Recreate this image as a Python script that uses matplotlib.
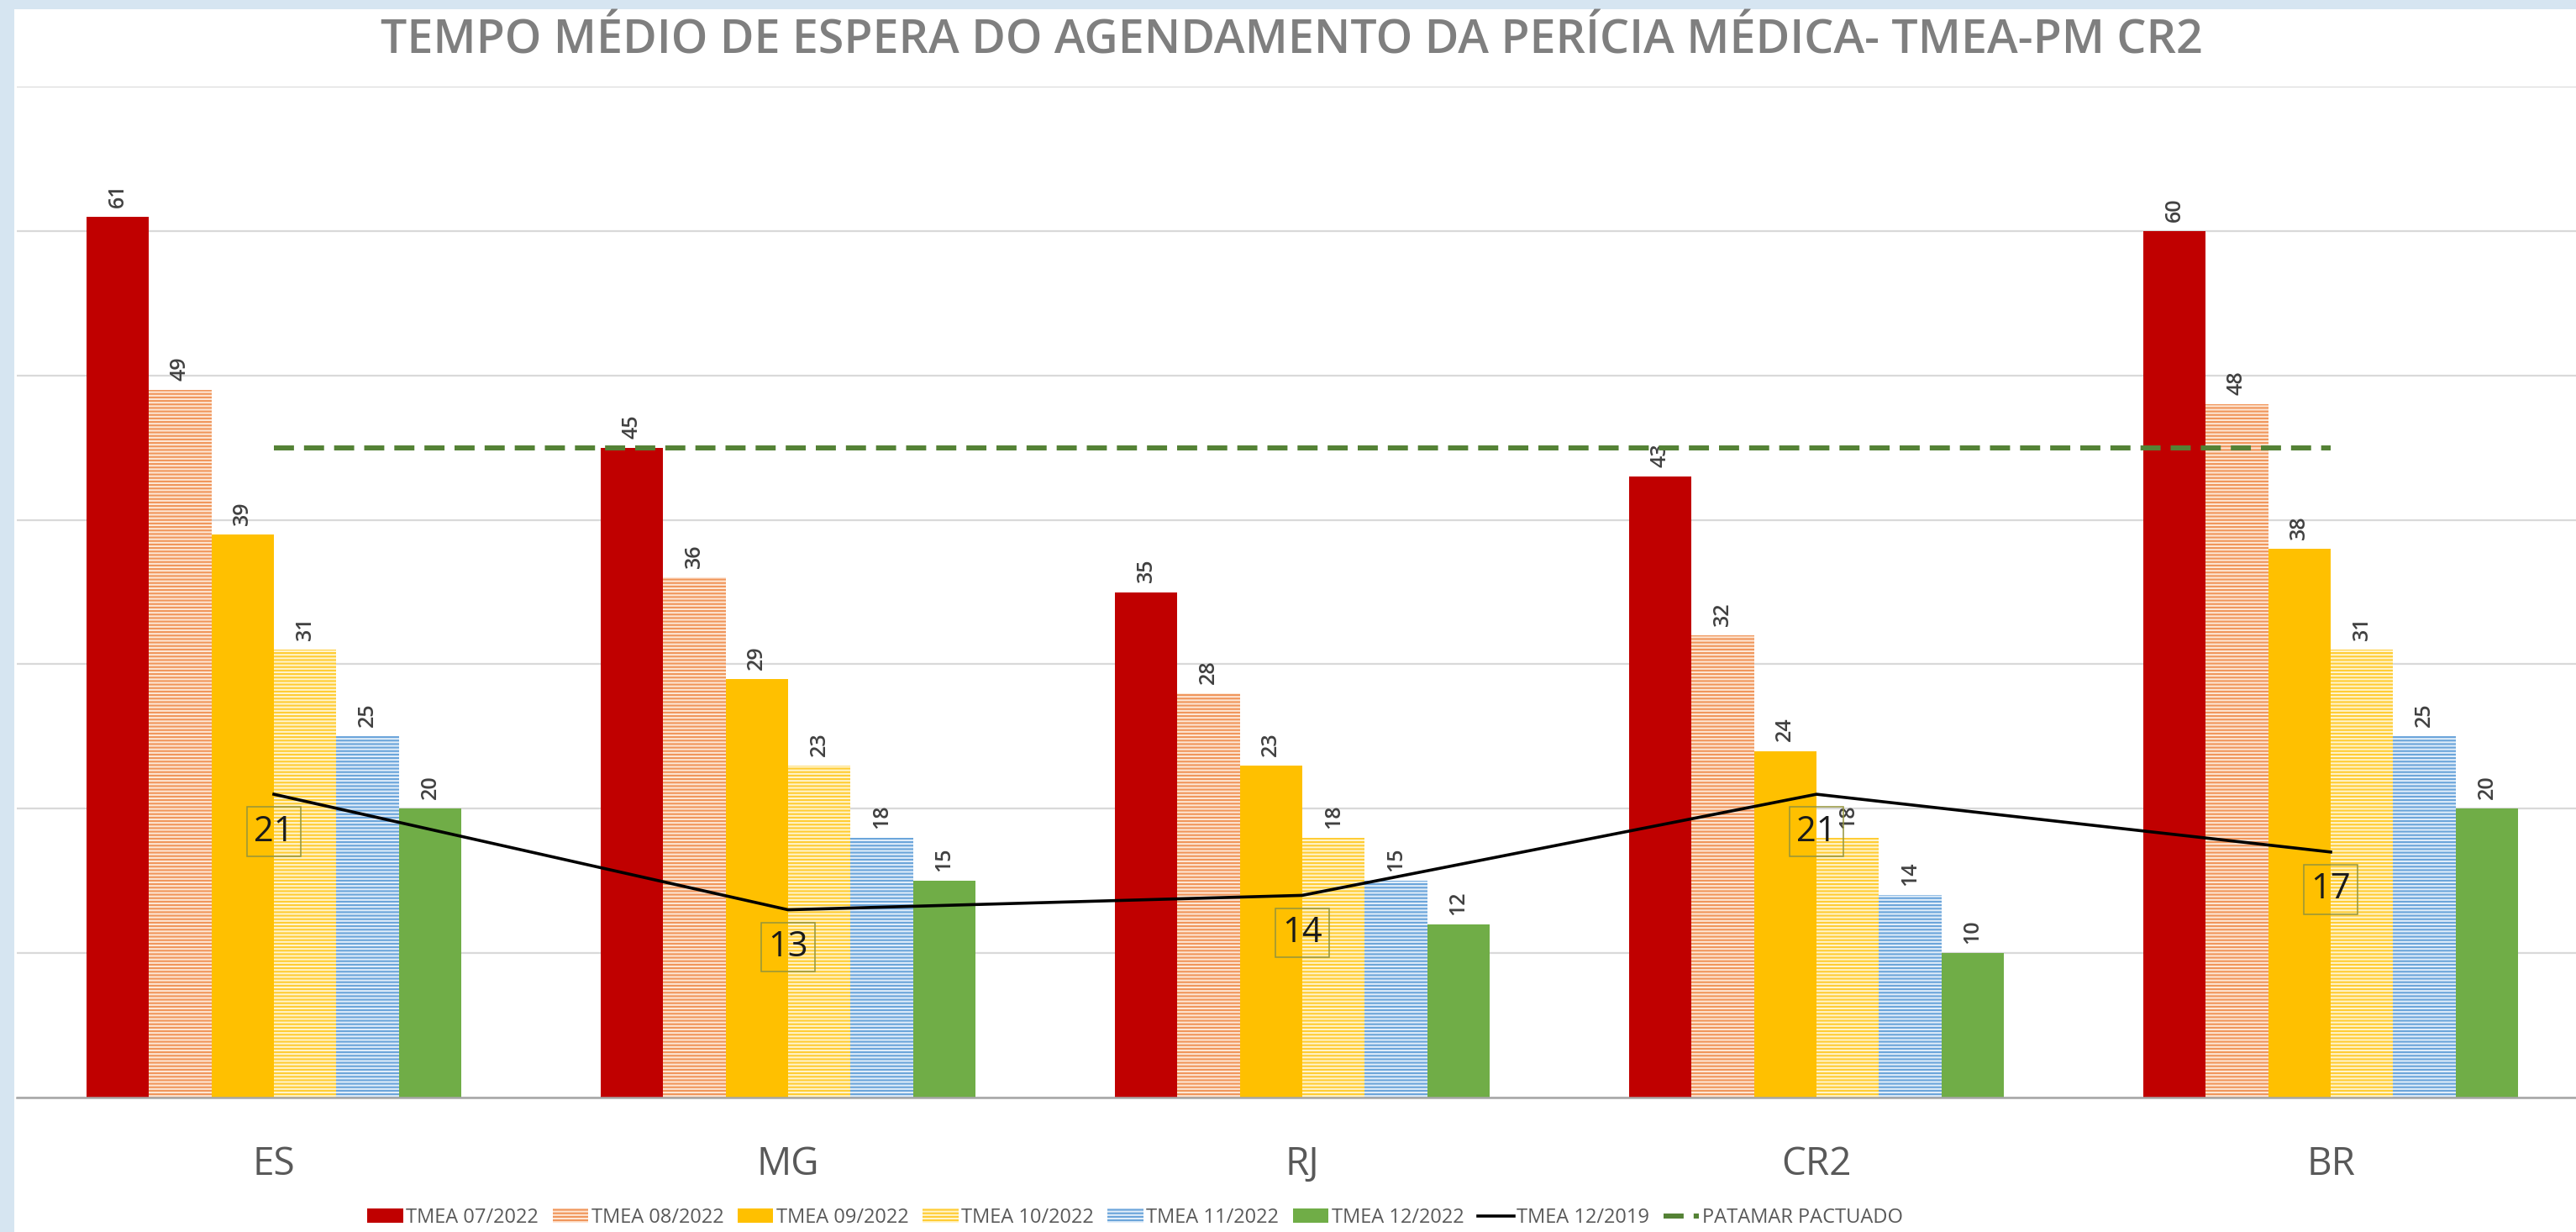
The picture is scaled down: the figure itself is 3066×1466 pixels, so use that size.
import matplotlib
matplotlib.use('Agg')
import matplotlib.pyplot as plt
from matplotlib import font_manager
from matplotlib.patches import Patch, Rectangle
from matplotlib.lines import Line2D
import numpy as np

# Data
categories = ['ES', 'MG', 'RJ', 'CR2', 'BR']
series_labels = ['TMEA 07/2022', 'TMEA 08/2022', 'TMEA 09/2022',
                 'TMEA 10/2022', 'TMEA 11/2022', 'TMEA 12/2022']
tmea_07 = [61, 45, 35, 43, 60]
tmea_08 = [49, 36, 28, 32, 48]
tmea_09 = [39, 29, 23, 24, 38]
tmea_10 = [31, 23, 18, 18, 31]
tmea_11 = [25, 18, 15, 14, 25]
tmea_12 = [20, 15, 12, 10, 20]
tmea_2019 = [21, 13, 14, 21, 17]
patamar = [45, 45, 45, 45, 45]
line_labels = ['TMEA 12/2019', 'PATAMAR PACTUADO']
title = 'TEMPO MÉDIO DE ESPERA DO AGENDAMENTO DA PERÍCIA MÉDICA- TMEA-PM CR2'

plt.rcParams['hatch.linewidth'] = 1.5

names = {f.name for f in font_manager.fontManager.ttflist}
narrow = 'Liberation Sans Narrow' if 'Liberation Sans Narrow' in names else 'Open Sans'
legend_size = 20 if narrow == 'Liberation Sans Narrow' else 17

W, H = 3066, 1466
fig = plt.figure(figsize=(W / 100, H / 100), dpi=100)
fig.patch.set_facecolor('#D6E5F1')
fig.patches.append(Rectangle((17 / W, 0), 1, (H - 11) / H, transform=fig.transFigure,
                             facecolor='white', edgecolor='none', zorder=-10))

ax = fig.add_axes([20 / W, (H - 1306) / H, (W - 20) / W, (1306 - 103) / H])
ax.set_facecolor('none')

# (face, hatch colour, hatch)
styles = [
    ('#C00000', '#C00000', None),
    ('#FDE6D4', '#F0955A', '----'),
    ('#FFC000', '#FFC000', None),
    ('#FFF4CC', '#FFCC33', '----'),
    ('#E0EDF9', '#6AA4DA', '----'),
    ('#70AD47', '#70AD47', None),
]
series = [tmea_07, tmea_08, tmea_09, tmea_10, tmea_11, tmea_12]

x = np.arange(len(categories))
bw = 0.1216
for j, (vals, (fc, hc, hatch)) in enumerate(zip(series, styles)):
    pos = x + (j - 2.5) * bw
    ax.bar(pos, vals, bw, color=fc, edgecolor=hc, linewidth=0, hatch=hatch, zorder=2)
    for px, v in zip(pos, vals):
        ax.annotate(str(v), (px, v), xytext=(0, 8), textcoords='offset points',
                    rotation=90, ha='center', va='bottom', fontsize=18,
                    color='#404040', family='Open Sans', fontweight='semibold')

ax.plot(x, patamar, color='#548235', lw=4.3, dashes=(4, 2), zorder=3)
ax.plot(x, tmea_2019, color='black', lw=2.6, zorder=4)
for i, v in enumerate(tmea_2019):
    ax.annotate(str(v), (i, v), xytext=(0, -32), textcoords='offset points',
                ha='center', va='center', fontsize=30, color='#1A1A1A',
                family='Open Sans', zorder=5,
                bbox=dict(boxstyle='square,pad=0.2', fc='none', ec='#94943C', lw=1.1))

ax.set_xlim(-0.5, -0.5 + (W - 20) / 612)
ax.set_ylim(0, 70)
ax.set_yticks(range(0, 71, 10))
ax.set_yticklabels([])
ax.tick_params(axis='y', length=0)
ax.grid(axis='y', color='#D9D9D9', lw=1.6)
ax.set_axisbelow(True)
ax.set_xticks(x)
ax.set_xticklabels(categories, fontsize=33, color='#595959', family='Open Sans')
ax.tick_params(axis='x', length=0, pad=41)
for s in ['left', 'right', 'top']:
    ax.spines[s].set_visible(False)
ax.spines['bottom'].set_color('#A6A6A6')
ax.spines['bottom'].set_linewidth(1.8)

fig.text(0.5013, (H - 63) / H, title, ha='center', va='baseline', fontsize=40,
         fontweight='semibold', color='#7F7F7F', family='Open Sans')

handles = [Patch(facecolor=fc, edgecolor=hc, linewidth=0, hatch=hatch)
           for fc, hc, hatch in styles]
handles.append(Line2D([], [], color='black', lw=2.6))
handles.append(Line2D([], [], color='#548235', lw=4.3, dashes=(4, 2)))
fig.legend(handles, series_labels + line_labels, loc='center',
           bbox_to_anchor=(1351 / W, (H - 1449) / H), ncol=8, frameon=False,
           prop={'family': narrow, 'size': legend_size}, labelcolor='#595959',
           handlelength=1.8, handleheight=0.75, handletextpad=0.15,
           columnspacing=0.7, borderpad=0.1)

fig.savefig('out.png', dpi=100, facecolor=fig.get_facecolor())
